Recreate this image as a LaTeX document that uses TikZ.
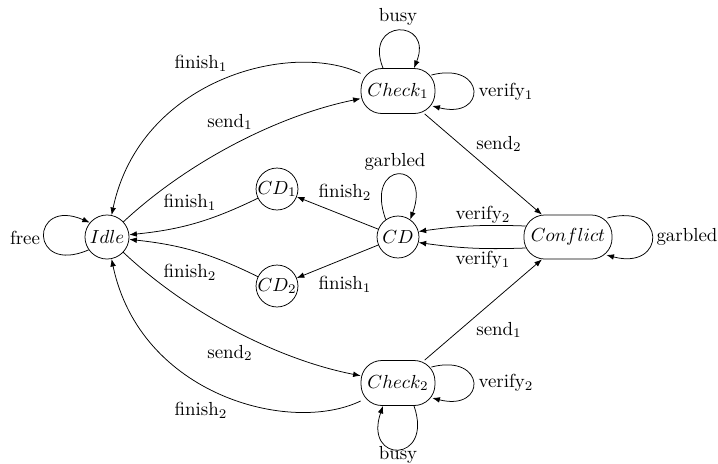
\documentclass[tikz,border=0pt]{standalone}
\usetikzlibrary{arrows.meta,calc}
\begin{document}
\begin{tikzpicture}[x=0.529pt,y=-0.529pt,
  >={Latex[length=4pt,width=3pt]},
  circ/.style={draw,circle,inner sep=0pt},
  rbox/.style={draw,rounded corners=11pt,inner sep=0pt},
  lbl/.style={inner sep=1pt}]
\useasboundingbox (0,0) rectangle (718,463);
% states
\node[circ,minimum size=23.3pt] (idle) at (107,237) {$Idle$};
\node[rbox,minimum width=39.1pt,minimum height=23.8pt] (c1) at (398,91) {$Check_1$};
\node[rbox,minimum width=39.1pt,minimum height=23.8pt] (c2) at (398,383) {$Check_2$};
\node[circ,minimum size=21.2pt] (cd1) at (277,189) {$CD_1$};
\node[circ,minimum size=21.2pt] (cd2) at (277,286) {$CD_2$};
\node[circ,minimum size=22.2pt] (cd) at (398,237) {$CD$};
\node[rbox,minimum width=46.6pt,minimum height=23.3pt] (conf) at (568,237) {$Conflict$};
% loops
\draw[->] (idle.215) .. controls +(-60,26) and +(-60,-26) .. (idle.140)
  node[lbl] (lfree) at (25,238) {free};
\draw[->] ($(c1.north)+(-15,0)$) .. controls +(-20,-50) and +(20,-50) .. ($(c1.north)+(16,0)$)
  node[lbl] (lbusy1) at (398,17) {busy};
\draw[->] ($(c1.east)+(-4,-16)$) .. controls +(55,-14) and +(55,14) .. ($(c1.east)+(-3,15)$)
  node[lbl] (lver1) at (506,92) {verify$_1$};
\draw[->] ($(c2.south)+(16,0)$) .. controls +(20,58) and +(-20,58) .. ($(c2.south)+(-15,0)$)
  node[lbl] (lbusy2) at (398,455) {busy};
\draw[->] ($(c2.east)+(-4,-16)$) .. controls +(55,-14) and +(55,14) .. ($(c2.east)+(-3,15)$)
  node[lbl] (lver2) at (506,383) {verify$_2$};
\draw[->] (cd.125) .. controls +(-22,-60) and +(22,-60) .. (cd.55)
  node[lbl] (lgarb1) at (395,162) {garbled};
\draw[->] ($(conf.east)+(-5,-19)$) .. controls +(60,-16) and +(60,16) .. ($(conf.east)+(-6,18)$)
  node[lbl] (lgarb2) at (687,237) {garbled};
% transitions
\draw[->] (c1) .. controls (290,40) and (140,80) .. (idle)
  node[lbl] (lf1a) at (201,63) {finish$_1$};
\draw[->] (idle) .. controls (190,160) and (280,115) .. (c1)
  node[lbl] (ls1a) at (230,122) {send$_1$};
\draw[->] (idle) .. controls (190,315) and (280,360) .. (c2)
  node[lbl] (ls2a) at (230,353) {send$_2$};
\draw[->] (c2) .. controls (290,435) and (140,395) .. (idle)
  node[lbl] (lf2a) at (201,410) {finish$_2$};
\draw[->] (c1) -- (conf)
  node[lbl] (ls2b) at (499,144) {send$_2$};
\draw[->] (c2) -- (conf)
  node[lbl] (ls1b) at (499,330) {send$_1$};
\draw[->] (cd1) to[bend left=10] (idle)
  node[lbl] (lf1b) at (190,202) {finish$_1$};
\draw[->] (cd2) to[bend right=10] (idle)
  node[lbl] (lf2b) at (190,272) {finish$_2$};
\draw[->] (cd) -- (cd1)
  node[lbl] (lf2c) at (345,192) {finish$_2$};
\draw[->] (cd) -- (cd2)
  node[lbl] (lf1c) at (345,284) {finish$_1$};
\draw[->] ($(conf.west)+(2,-11)$) to[bend right=5] (cd.15)
  node[lbl] (lv2) at (483,215) {verify$_2$};
\draw[->] ($(conf.west)+(2,11)$) to[bend left=5] (cd.-15)
  node[lbl] (lv1) at (483,260) {verify$_1$};
\end{tikzpicture}
\end{document}
